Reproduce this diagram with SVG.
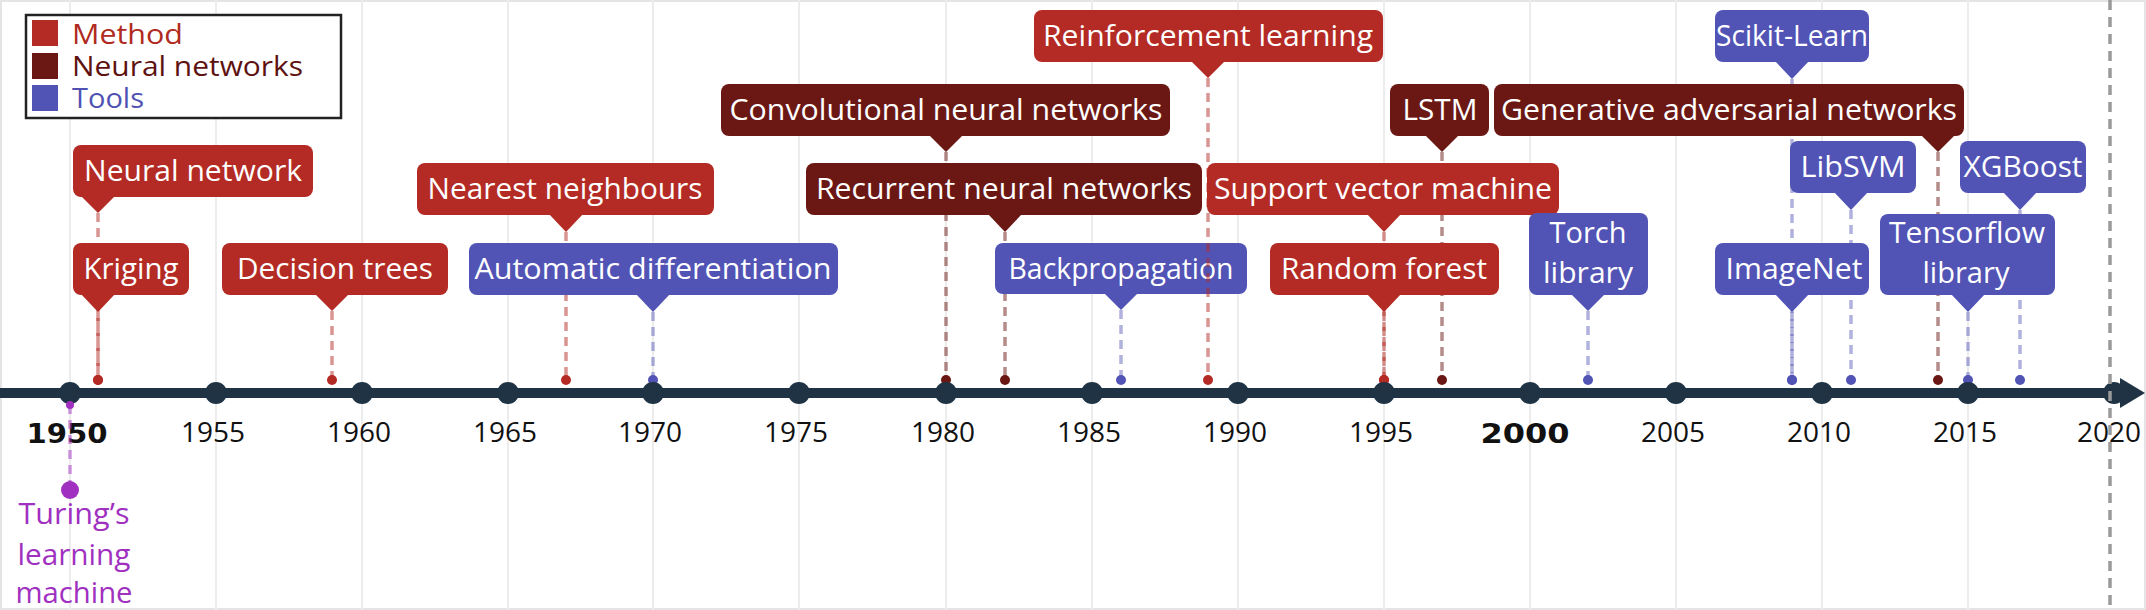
<svg xmlns="http://www.w3.org/2000/svg" width="2146" height="610" viewBox="0 0 2146 610">
<style>
.m{fill:#B32B24}.n{fill:#6B1815}.t{fill:#5153B5}
.lbl{font-family:"Open Sans","Liberation Sans",sans-serif;font-size:29px;fill:#fff;text-anchor:middle}
.yr{font-family:"Open Sans","Liberation Sans",sans-serif;font-size:28px;fill:#111;text-anchor:middle}
.yb{font-family:"DejaVu Sans","Liberation Sans",sans-serif;font-weight:bold;font-size:27px;fill:#111;text-anchor:middle}
.lg{font-family:"Open Sans","Liberation Sans",sans-serif;font-size:28px}
.tu{font-family:"Open Sans","Liberation Sans",sans-serif;font-size:29px;fill:#A030C0;text-anchor:middle}
.grid{stroke:#ececec;stroke-width:2}
.c{stroke-width:3.5;stroke-dasharray:9 6;fill:none}
.cm{stroke:#B32B24;stroke-opacity:.5;marker-end:url(#dm)}
.cn{stroke:#6B1815;stroke-opacity:.5;marker-end:url(#dn)}
.ct{stroke:#5153B5;stroke-opacity:.45;marker-end:url(#dt)}
.tick{fill:#1F3344}
</style>
<defs>
<marker id="dm" markerWidth="12" markerHeight="12" refX="6" refY="6" markerUnits="userSpaceOnUse"><circle cx="6" cy="6" r="5" fill="#B32B24"/></marker>
<marker id="dn" markerWidth="12" markerHeight="12" refX="6" refY="6" markerUnits="userSpaceOnUse"><circle cx="6" cy="6" r="5" fill="#6B1815"/></marker>
<marker id="dt" markerWidth="12" markerHeight="12" refX="6" refY="6" markerUnits="userSpaceOnUse"><circle cx="6" cy="6" r="5" fill="#5153B5"/></marker>
</defs>
<rect x="0" y="0" width="2146" height="610" fill="#fff"/>
<rect x="1" y="1" width="2144" height="608" fill="none" stroke="#e4e4e4" stroke-width="2"/>
<g id="gridlines">
<line class="grid" x1="70" y1="0" x2="70" y2="610"/><line class="grid" x1="216" y1="0" x2="216" y2="610"/><line class="grid" x1="362" y1="0" x2="362" y2="610"/><line class="grid" x1="508" y1="0" x2="508" y2="610"/><line class="grid" x1="653" y1="0" x2="653" y2="610"/><line class="grid" x1="799" y1="0" x2="799" y2="610"/><line class="grid" x1="946" y1="0" x2="946" y2="610"/><line class="grid" x1="1092" y1="0" x2="1092" y2="610"/><line class="grid" x1="1238" y1="0" x2="1238" y2="610"/><line class="grid" x1="1384" y1="0" x2="1384" y2="610"/><line class="grid" x1="1530" y1="0" x2="1530" y2="610"/><line class="grid" x1="1676" y1="0" x2="1676" y2="610"/><line class="grid" x1="1822" y1="0" x2="1822" y2="610"/><line class="grid" x1="1968" y1="0" x2="1968" y2="610"/>
</g>
<g id="legend">
<rect x="26" y="15" width="315" height="103" fill="#fff" stroke="#222" stroke-width="2.5"/>
<rect class="m" x="32" y="20" width="26" height="26"/>
<rect class="n" x="32" y="53" width="26" height="26"/>
<rect class="t" x="32" y="85" width="26" height="26"/>
<text class="lg" x="72" y="44" fill="#B02A22" textLength="111" lengthAdjust="spacingAndGlyphs">Method</text>
<text class="lg" x="72" y="76" fill="#5E1210" textLength="231" lengthAdjust="spacingAndGlyphs">Neural networks</text>
<text class="lg" x="72" y="108" fill="#4F52B3" textLength="72" lengthAdjust="spacingAndGlyphs">Tools</text>
</g>
<g id="connectors">
<line class="c cm" x1="98" y1="213" x2="98" y2="380"/>
<line class="c cm" x1="98" y1="312" x2="98" y2="380"/>
<line class="c cm" x1="332" y1="311" x2="332" y2="380"/>
<line class="c cm" x1="566" y1="232" x2="566" y2="380"/>
<line class="c ct" x1="653" y1="312" x2="653" y2="380"/>
<line class="c cn" x1="946" y1="152" x2="946" y2="380"/>
<line class="c cn" x1="1005" y1="232" x2="1005" y2="380"/>
<line class="c ct" x1="1121" y1="310" x2="1121" y2="380"/>
<line class="c cm" x1="1208" y1="78" x2="1208" y2="380"/>
<line class="c cm" x1="1384" y1="232" x2="1384" y2="380"/>
<line class="c cm" x1="1384" y1="312" x2="1384" y2="380"/>
<line class="c cn" x1="1442" y1="152" x2="1442" y2="380"/>
<line class="c ct" x1="1588" y1="311" x2="1588" y2="380"/>
<line class="c ct" x1="1792" y1="79" x2="1792" y2="380"/>
<line class="c ct" x1="1792" y1="312" x2="1792" y2="380"/>
<line class="c ct" x1="1851" y1="210" x2="1851" y2="380"/>
<line class="c cn" x1="1938" y1="152" x2="1938" y2="380"/>
<line class="c ct" x1="1968" y1="312" x2="1968" y2="380"/>
<line class="c ct" x1="2020" y1="210" x2="2020" y2="380"/>
</g>
<g id="axis">
<line x1="0" y1="393" x2="2128" y2="393" stroke="#1F3344" stroke-width="10"/>
<polygon points="2120,378 2145,393 2120,408" fill="#1F3344"/>
<circle class="tick" cx="70" cy="393" r="11"/><circle class="tick" cx="216" cy="393" r="11"/><circle class="tick" cx="362" cy="393" r="11"/><circle class="tick" cx="508" cy="393" r="11"/><circle class="tick" cx="653" cy="393" r="11"/><circle class="tick" cx="799" cy="393" r="11"/><circle class="tick" cx="946" cy="393" r="11"/><circle class="tick" cx="1092" cy="393" r="11"/><circle class="tick" cx="1238" cy="393" r="11"/><circle class="tick" cx="1384" cy="393" r="11"/><circle class="tick" cx="1530" cy="393" r="11"/><circle class="tick" cx="1676" cy="393" r="11"/><circle class="tick" cx="1822" cy="393" r="11"/><circle class="tick" cx="1968" cy="393" r="11"/><circle class="tick" cx="2114" cy="393" r="11"/>
<text class="yb" x="67" y="443" textLength="81" lengthAdjust="spacingAndGlyphs">1950</text>
<text class="yr" x="213" y="442">1955</text>
<text class="yr" x="359" y="442">1960</text>
<text class="yr" x="505" y="442">1965</text>
<text class="yr" x="650" y="442">1970</text>
<text class="yr" x="796" y="442">1975</text>
<text class="yr" x="943" y="442">1980</text>
<text class="yr" x="1089" y="442">1985</text>
<text class="yr" x="1235" y="442">1990</text>
<text class="yr" x="1381" y="442">1995</text>
<text class="yb" x="1525" y="443" textLength="89" lengthAdjust="spacingAndGlyphs">2000</text>
<text class="yr" x="1673" y="442">2005</text>
<text class="yr" x="1819" y="442">2010</text>
<text class="yr" x="1965" y="442">2015</text>
<text class="yr" x="2109" y="442">2020</text>
<line x1="2110" y1="0" x2="2110" y2="610" stroke="#9a9a9a" stroke-width="3.5" stroke-dasharray="10 7"/>
</g>
<g id="n-turing">
<line x1="70" y1="405" x2="70" y2="482" stroke="#A030C0" stroke-opacity=".5" stroke-width="3.5" stroke-dasharray="9 6"/>
<circle cx="70" cy="405" r="4" fill="#A030C0"/>
<circle cx="70" cy="490" r="9" fill="#A030C0"/>
<text class="tu" x="74" y="524" textLength="111" lengthAdjust="spacingAndGlyphs">Turing&#8217;s</text>
<text class="tu" x="74" y="565" textLength="113" lengthAdjust="spacingAndGlyphs">learning</text>
<text class="tu" x="74" y="603" textLength="117" lengthAdjust="spacingAndGlyphs">machine</text>
</g>
<g id="n-neural-network"><rect class="m" x="73" y="145" width="240" height="52" rx="8"/><polygon class="m" points="81,196 115,196 98,213"/><text class="lbl" x="193" y="181" textLength="218" lengthAdjust="spacingAndGlyphs">Neural network</text></g>
<g id="n-kriging"><rect class="m" x="73" y="243" width="116" height="52" rx="8"/><polygon class="m" points="81,294 115,294 98,312"/><text class="lbl" x="131" y="279" textLength="95" lengthAdjust="spacingAndGlyphs">Kriging</text></g>
<g id="n-decision-trees"><rect class="m" x="222" y="243" width="226" height="52" rx="8"/><polygon class="m" points="315,294 349,294 332,311"/><text class="lbl" x="335" y="279" textLength="196" lengthAdjust="spacingAndGlyphs">Decision trees</text></g>
<g id="n-nearest-neighbours"><rect class="m" x="417" y="163" width="297" height="52" rx="8"/><polygon class="m" points="549,214 583,214 566,232"/><text class="lbl" x="565" y="199" textLength="275" lengthAdjust="spacingAndGlyphs">Nearest neighbours</text></g>
<g id="n-automatic-differentiation"><rect class="t" x="469" y="243" width="369" height="52" rx="8"/><polygon class="t" points="636,294 670,294 653,312"/><text class="lbl" x="653" y="279" textLength="357" lengthAdjust="spacingAndGlyphs">Automatic differentiation</text></g>
<g id="n-convolutional"><rect class="n" x="721" y="84" width="449" height="52" rx="8"/><polygon class="n" points="929,135 963,135 946,152"/><text class="lbl" x="946" y="120" textLength="433" lengthAdjust="spacingAndGlyphs">Convolutional neural networks</text></g>
<g id="n-recurrent"><rect class="n" x="806" y="163" width="396" height="52" rx="8"/><polygon class="n" points="988,214 1022,214 1005,232"/><text class="lbl" x="1004" y="199" textLength="376" lengthAdjust="spacingAndGlyphs">Recurrent neural networks</text></g>
<g id="n-backpropagation"><rect class="t" x="995" y="243" width="252" height="51" rx="8"/><polygon class="t" points="1104,293 1138,293 1121,310"/><text class="lbl" x="1121" y="279" textLength="225" lengthAdjust="spacingAndGlyphs">Backpropagation</text></g>
<g id="n-reinforcement"><rect class="m" x="1034" y="10" width="349" height="52" rx="8"/><polygon class="m" points="1191,61 1225,61 1208,78"/><text class="lbl" x="1208" y="46" textLength="330" lengthAdjust="spacingAndGlyphs">Reinforcement learning</text></g>
<g id="n-svm"><rect class="m" x="1207" y="163" width="352" height="52" rx="8"/><polygon class="m" points="1367,214 1401,214 1384,232"/><text class="lbl" x="1383" y="199" textLength="338" lengthAdjust="spacingAndGlyphs">Support vector machine</text></g>
<g id="n-random-forest"><rect class="m" x="1270" y="243" width="229" height="52" rx="8"/><polygon class="m" points="1367,294 1401,294 1384,312"/><text class="lbl" x="1384" y="279" textLength="206" lengthAdjust="spacingAndGlyphs">Random forest</text></g>
<g id="n-lstm"><rect class="n" x="1390" y="84" width="99" height="52" rx="8"/><polygon class="n" points="1425,135 1459,135 1442,152"/><text class="lbl" x="1440" y="120" textLength="75" lengthAdjust="spacingAndGlyphs">LSTM</text></g>
<g id="n-gan"><rect class="n" x="1494" y="84" width="470" height="52" rx="8"/><polygon class="n" points="1921,135 1955,135 1938,152"/><text class="lbl" x="1729" y="120" textLength="456" lengthAdjust="spacingAndGlyphs">Generative adversarial networks</text></g>
<g id="n-torch"><rect class="t" x="1529" y="213" width="119" height="82" rx="8"/><polygon class="t" points="1571,294 1605,294 1588,311"/><text class="lbl" x="1588" y="243" textLength="77" lengthAdjust="spacingAndGlyphs">Torch</text><text class="lbl" x="1588" y="283" textLength="90" lengthAdjust="spacingAndGlyphs">library</text></g>
<g id="n-scikit-learn"><rect class="t" x="1715" y="10" width="154" height="52" rx="8"/><polygon class="t" points="1775,61 1809,61 1792,79"/><text class="lbl" x="1792" y="46" textLength="152" lengthAdjust="spacingAndGlyphs">Scikit-Learn</text></g>
<g id="n-libsvm"><rect class="t" x="1790" y="141" width="126" height="52" rx="8"/><polygon class="t" points="1834,192 1868,192 1851,210"/><text class="lbl" x="1853" y="177" textLength="105" lengthAdjust="spacingAndGlyphs">LibSVM</text></g>
<g id="n-xgboost"><rect class="t" x="1960" y="141" width="126" height="52" rx="8"/><polygon class="t" points="2003,192 2037,192 2020,210"/><text class="lbl" x="2023" y="177" textLength="119" lengthAdjust="spacingAndGlyphs">XGBoost</text></g>
<g id="n-imagenet"><rect class="t" x="1715" y="243" width="154" height="52" rx="8"/><polygon class="t" points="1775,294 1809,294 1792,312"/><text class="lbl" x="1794" y="279" textLength="137" lengthAdjust="spacingAndGlyphs">ImageNet</text></g>
<g id="n-tensorflow"><rect class="t" x="1880" y="214" width="175" height="81" rx="8"/><polygon class="t" points="1951,294 1985,294 1968,312"/><text class="lbl" x="1967" y="243" textLength="156" lengthAdjust="spacingAndGlyphs">Tensorflow</text><text class="lbl" x="1966" y="283" textLength="87" lengthAdjust="spacingAndGlyphs">library</text></g>
<g id="connectors-front">
<line class="c" x1="1208" y1="243" x2="1208" y2="294" stroke="#B32B24" stroke-opacity=".5"/>
</g>
</svg>
